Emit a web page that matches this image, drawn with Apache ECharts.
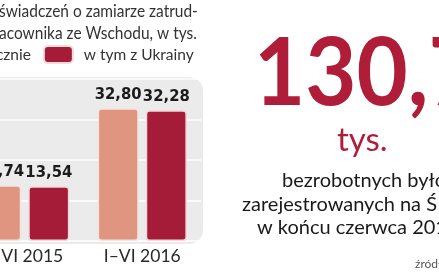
<!DOCTYPE html>
<html><head><meta charset="utf-8">
<script src="https://cdn.jsdelivr.net/npm/echarts@6/dist/echarts.min.js"></script>
<style>html,body{margin:0;padding:0;background:#fff;overflow:hidden;width:439px;height:274px;}
#c{position:absolute;left:-60px;top:0;width:499px;height:274px;}</style>
</head><body><div id="c"></div>
<script>
const categories = ['I–VI 2015', 'I–VI 2016'];
const seriesNames = ['Łącznie', 'w tym z Ukrainy'];
const totalValues = [13.74, 32.80];
const ukraineValues = [13.54, 32.28];
const titleLines = ['świadczeń o zamiarze zatrud-', 'acownika ze Wschodu, w tys.'];
const bigNumber = '130,7';
const bigUnit = 'tys.';
const noteLines = ['bezrobotnych było', 'zarejestrowanych na Ś', 'w końcu czerwca 201'];
const sourceText = 'źródło';

const SALMON = '#df9580';
const DARK = '#a41c37';
const O = 60;              // hidden strip on the left (container is shifted by O)
const W = 439 + O, H = 274;
const grid = { left: O - 34, right: 238, top: 79, bottom: 33 };
const fmt = v => v.toFixed(2).replace('.', ',');

const chart = echarts.init(document.getElementById('c'), null, { renderer: 'canvas' });
const labelStyle = {
  show: true, position: 'top', distance: 5,
  formatter: p => fmt(p.value),
  fontFamily: 'DejaVu Sans Condensed', fontWeight: 'bold', fontSize: 16.5, color: '#1b1b1b'
};
const txt = (x, y, text, size, fill, extra) => Object.assign({
  type: 'text', x: O + x, y: y, silent: true,
  style: Object.assign({ text: text, fontFamily: 'Lato', fontSize: size, fill: fill, verticalAlign: 'top' }, extra || {})
});
chart.setOption({
  animation: false,
  backgroundColor: '#fff',
  legend: {
    data: seriesNames,
    left: O - 61, top: 45, padding: 0,
    itemWidth: 29, itemHeight: 17, itemGap: 12,
    textStyle: { fontFamily: 'Lato', fontSize: 15.5, color: '#333', padding: [0, 0, 0, 6] }
  },
  graphic: [
    {
      type: 'rect', z: -10, silent: true,
      shape: { x: 0, y: grid.top - 2, width: W - grid.right + 2, height: H - grid.bottom - grid.top + 5, r: [0, 14, 14, 0] },
      style: { fill: '#ebebeb' }
    },
    Object.assign(txt(-1, 1, titleLines.join('\n'), 17, '#333', { lineHeight: 22 }), { scaleX: 0.91 }),
    Object.assign(txt(254, 28, bigNumber, 94, '#b01d39', { fontWeight: 'bold' }), { scaleX: 0.94 }),
    txt(337, 124, bigUnit, 33, '#b01d39'),
    txt(282, 171, noteLines[0], 20, '#1a1a1a'),
    txt(242, 195, noteLines[1], 20, '#1a1a1a'),
    txt(257, 218, noteLines[2], 20, '#1a1a1a'),
    txt(415, 258, sourceText, 12, '#555')
  ],
  grid: { left: grid.left, right: grid.right, top: grid.top, bottom: grid.bottom, containLabel: false },
  xAxis: {
    type: 'category', data: categories,
    axisLine: { show: false }, axisTick: { show: false },
    axisLabel: { margin: 6, fontFamily: 'Lato', fontSize: 17.5, color: '#2a2a2a' }
  },
  yAxis: {
    type: 'value', min: 0, max: 40, interval: 10,
    axisLabel: { show: false }, axisLine: { show: false }, axisTick: { show: false },
    splitLine: { lineStyle: { color: '#ffffff', width: 1.5 } }
  },
  series: [
    {
      name: seriesNames[0], type: 'bar', data: totalValues,
      barWidth: '35%', barGap: '17%',
      itemStyle: { color: SALMON, borderColor: '#f6e4df', borderWidth: 1.5, borderRadius: 3 },
      label: labelStyle
    },
    {
      name: seriesNames[1], type: 'bar', data: ukraineValues,
      barWidth: '35%',
      itemStyle: { color: DARK, borderColor: '#f1d9dc', borderWidth: 1.5, borderRadius: 3 },
      label: labelStyle
    }
  ]
});
</script></body></html>
